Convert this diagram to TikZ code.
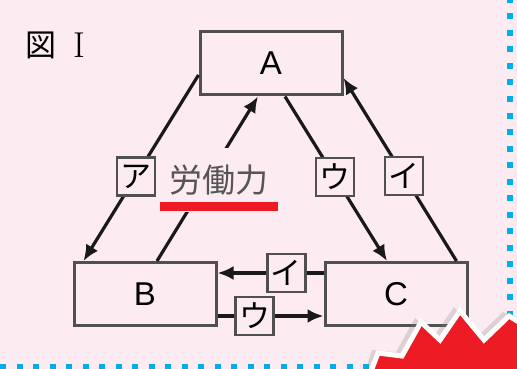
\documentclass[tikz,border=0pt]{standalone}
\usepackage{fontspec}
\usepackage{xcolor}
\usetikzlibrary{arrows.meta}
\newfontfamily\jpfont{Noto Sans CJK JP}
\newfontfamily\abcfont{Liberation Sans}

\definecolor{bgPink}{RGB}{252, 236, 242}
\definecolor{boxGray}{RGB}{80, 80, 80}
\definecolor{arrBlack}{RGB}{25, 25, 25}
\definecolor{kanjiGray}{RGB}{85, 85, 85}
\definecolor{barRed}{RGB}{237, 28, 36}
\definecolor{dotBlue}{RGB}{0, 174, 239}

\begin{document}
\begin{tikzpicture}[x = 1pt, y = -1pt,
  blk/.style = {draw = boxGray, line width = 3pt, fill = bgPink, minimum width = 142pt,
    minimum height = 63pt, inner sep = 0pt, font = \abcfont\fontsize{33}{33}\selectfont},
  tag/.style = {draw = boxGray, line width = 2.5pt, fill = bgPink, minimum size = 38pt,
    inner sep = 0pt, font = \jpfont\fontsize{31}{31}\selectfont},
  arr/.style = {draw = arrBlack, line width = 3.2pt, -{Latex[length = 16pt, width = 14pt]}}]

  \fill[bgPink] (0, 0) rectangle (517, 369);
  \useasboundingbox (0, 0) rectangle (517, 369);

  \node[font = \jpfont\fontsize{31}{31}\selectfont] (fig) at (41, 45) {図};
  \node[font = \fontsize{36}{36}\selectfont] (num) at (79, 45) {I};

  \node[blk] (A) at (271, 63.5) {A};
  \node[blk] (B) at (145, 294) {B};
  \node[blk] (C) at (396, 294) {C};

  % A -> B, A -> C, C -> A
  \draw[arr] ([yshift = -11.5pt]A.west) -- node[tag, pos = 0.545] (tagA) {ア} ([xshift = 11pt]B.north west);
  \draw[arr] ([xshift = 14pt]A.south) -- node[tag, pos = 0.49] (tagU) {ウ} ([xshift = -9pt]C.north);
  \draw[arr] ([xshift = -12pt]C.north east) -- node[tag, pos = 0.465] (tagI) {イ} ([yshift = -14.5pt]A.east);

  % B -> A
  \draw[arr] ([xshift = 12pt]B.north) -- ([xshift = -13pt]A.south);
  \node[fill = bgPink, minimum width = 118pt, minimum height = 64pt, inner sep = 0pt,
    text = kanjiGray, font = \jpfont\fontsize{33}{33}\selectfont] (labor) at (219, 180) {労働力};
  \fill[barRed] (160, 202) rectangle (278, 211);

  % B <-> C
  \draw[arr] ([yshift = 21pt]C.west) -- node[tag, pos = 0.35] (tagI2) {イ} ([yshift = 21pt]B.east);
  \draw[arr] ([yshift = -22pt]B.east) -- node[tag, pos = 0.35] (tagU2) {ウ} ([yshift = -22pt]C.west);

  \draw[dotBlue, line width = 6pt, dash pattern = on 6pt off 10.5pt] (510, -3) -- (510, 345);
  \draw[dotBlue, line width = 6pt, dash pattern = on 6pt off 10.5pt] (0, 367) -- (380, 367);

  \fill[gray, opacity = 0.25] (364, 374) -- (372, 350) -- (396, 352) -- (415, 318) -- (434, 336)
    -- (454, 307) -- (478, 336) -- (503, 312) -- (520, 318) -- (520, 374) -- cycle;
  \filldraw[fill = barRed, draw = white, line width = 5pt, line join = miter]
    (370, 374) -- (378, 353) -- (402, 356) -- (421, 322) -- (440, 340) -- (460, 311)
    -- (484, 340) -- (509, 316) -- (522, 324) -- (522, 374) -- cycle;
\end{tikzpicture}
\end{document}
